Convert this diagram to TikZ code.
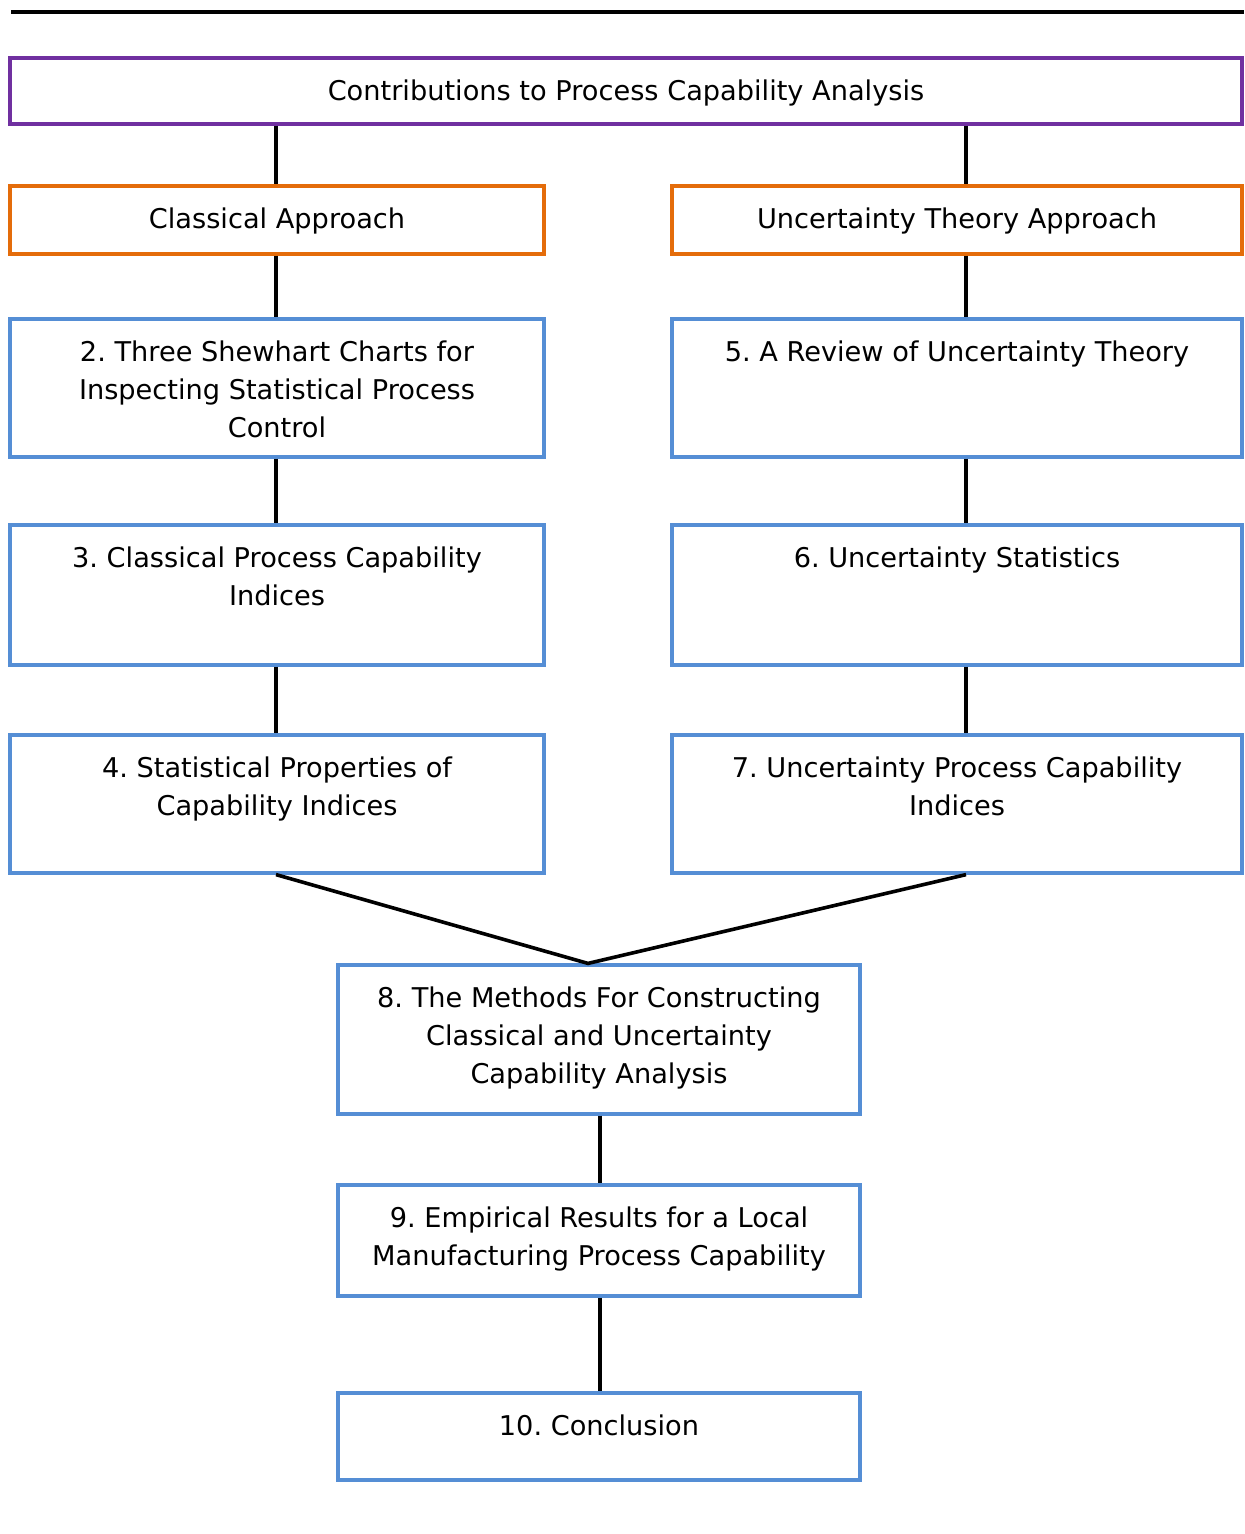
\documentclass[tikz,border=0pt]{standalone}
\usepackage{fontspec}
\setmainfont{DejaVu Sans}
\frenchspacing
\definecolor{topviolet}{HTML}{7030A0}
\definecolor{approachorange}{HTML}{E46C0A}
\definecolor{chapterblue}{HTML}{558ED5}
% box text: fixed size, lines hanging from the top
\newcommand{\cellbox}[3]{\parbox[c][#2][t]{#1}{\centering\rule{0pt}{21.2pt}#3}}
\begin{document}
\begin{tikzpicture}[x=0.5pt, y=-0.5pt,
    box/.style={draw=#1, line width=1.6pt, inner sep=0pt},
    link/.style={draw=black, line width=1.8pt},
    font=\fontsize{13.6}{19}\selectfont]

    \useasboundingbox (0,0) rectangle (1244,1534);
    \draw[line width=2pt] (11,12) -- (1244,12);

    % Title and the two approaches
    \node[box=topviolet] (contrib) at (626,91) {\cellbox{616pt}{33pt}{Contributions to Process Capability Analysis}};
    \node[box=approachorange] (classical) at (277,220) {\cellbox{267pt}{34pt}{Classical Approach}};
    \node[box=approachorange] (uncert) at (957,220) {\cellbox{285pt}{34pt}{Uncertainty Theory Approach}};

    % Classical chapters
    \node[box=chapterblue] (shewhart) at (277,388) {\cellbox{267pt}{69pt}{2. Three Shewhart Charts for\\Inspecting Statistical Process\\Control}};
    \node[box=chapterblue] (clindices) at (277,595) {\cellbox{267pt}{70pt}{3. Classical Process Capability\\Indices}};
    \node[box=chapterblue] (properties) at (277,804) {\cellbox{267pt}{69pt}{4. Statistical Properties of\\Capability Indices}};

    % Uncertainty chapters
    \node[box=chapterblue] (review) at (957,388) {\cellbox{285pt}{69pt}{5. A Review of Uncertainty Theory}};
    \node[box=chapterblue] (ustats) at (957,595) {\cellbox{285pt}{70pt}{6. Uncertainty Statistics}};
    \node[box=chapterblue] (uindices) at (957,804) {\cellbox{285pt}{69pt}{7. Uncertainty Process Capability\\Indices}};

    % Joint chapters
    \node[box=chapterblue] (methods) at (599,1039.5) {\cellbox{261pt}{74.5pt}{8. The Methods For Constructing\\Classical and Uncertainty\\Capability Analysis}};
    \node[box=chapterblue] (empirical) at (599,1240.5) {\cellbox{261pt}{55.5pt}{9. Empirical Results for a Local\\Manufacturing Process Capability}};
    \node[box=chapterblue] (conclusion) at (599,1436.5) {\cellbox{261pt}{43.5pt}{10. Conclusion}};

    % Connector columns
    \coordinate (lcol) at (276,0);
    \coordinate (rcol) at (966,0);
    \coordinate (mcol) at (600,0);
    \coordinate (meet) at ([xshift=-5.5pt]methods.north);

    \draw[link] (contrib.south -| lcol) -- (classical.north -| lcol);
    \draw[link] (contrib.south -| rcol) -- (uncert.north -| rcol);
    \draw[link] (classical.south -| lcol) -- (shewhart.north -| lcol);
    \draw[link] (shewhart.south -| lcol) -- (clindices.north -| lcol);
    \draw[link] (clindices.south -| lcol) -- (properties.north -| lcol);
    \draw[link] (uncert.south -| rcol) -- (review.north -| rcol);
    \draw[link] (review.south -| rcol) -- (ustats.north -| rcol);
    \draw[link] (ustats.south -| rcol) -- (uindices.north -| rcol);
    \draw[link] (properties.south -| lcol) -- (meet) -- (uindices.south -| rcol);
    \draw[link] (methods.south -| mcol) -- (empirical.north -| mcol);
    \draw[link] (empirical.south -| mcol) -- (conclusion.north -| mcol);

\end{tikzpicture}
\end{document}
